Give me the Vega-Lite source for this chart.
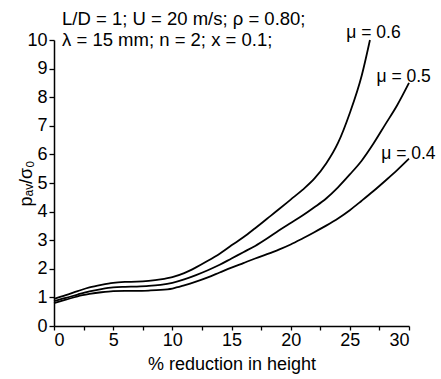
{
  "$schema": "https://vega.github.io/schema/vega-lite/v6.json",
  "width": 355,
  "height": 286,
  "autosize": {"type": "none"},
  "padding": {"left": 54, "top": 40, "right": 32, "bottom": 53},
  "background": "white",
  "config": {
    "view": {"stroke": null},
    "font": "Liberation Sans",
    "axis": {
      "domainColor": "black",
      "domainWidth": 1.5,
      "tickColor": "black",
      "tickWidth": 1.3,
      "labelColor": "black",
      "titleColor": "black",
      "labelFont": "Liberation Sans",
      "titleFont": "Liberation Sans",
      "labelFontSize": 18,
      "titleFontSize": 18,
      "titleFontWeight": "normal",
      "labelOverlap": false,
      "grid": false
    }
  },
  "datasets": {
    "curves": [
      {"mu": "0.6", "x": 0, "y": 0.95}, {"mu": "0.6", "x": 1, "y": 1.08}, {"mu": "0.6", "x": 2, "y": 1.22},
      {"mu": "0.6", "x": 3, "y": 1.35}, {"mu": "0.6", "x": 4, "y": 1.44}, {"mu": "0.6", "x": 5, "y": 1.51},
      {"mu": "0.6", "x": 6, "y": 1.54}, {"mu": "0.6", "x": 7, "y": 1.55}, {"mu": "0.6", "x": 8, "y": 1.58},
      {"mu": "0.6", "x": 9, "y": 1.63}, {"mu": "0.6", "x": 10, "y": 1.71}, {"mu": "0.6", "x": 11, "y": 1.85},
      {"mu": "0.6", "x": 12, "y": 2.05}, {"mu": "0.6", "x": 13, "y": 2.28}, {"mu": "0.6", "x": 14, "y": 2.53},
      {"mu": "0.6", "x": 15, "y": 2.82}, {"mu": "0.6", "x": 16, "y": 3.1}, {"mu": "0.6", "x": 17, "y": 3.42},
      {"mu": "0.6", "x": 18, "y": 3.75}, {"mu": "0.6", "x": 19, "y": 4.08}, {"mu": "0.6", "x": 20, "y": 4.42},
      {"mu": "0.6", "x": 21, "y": 4.76}, {"mu": "0.6", "x": 22, "y": 5.15}, {"mu": "0.6", "x": 23, "y": 5.68},
      {"mu": "0.6", "x": 24, "y": 6.4}, {"mu": "0.6", "x": 25, "y": 7.45}, {"mu": "0.6", "x": 26, "y": 8.75},
      {"mu": "0.6", "x": 26.7, "y": 10.0},
      {"mu": "0.5", "x": 0, "y": 0.87}, {"mu": "0.5", "x": 1, "y": 0.98}, {"mu": "0.5", "x": 2, "y": 1.1},
      {"mu": "0.5", "x": 3, "y": 1.21}, {"mu": "0.5", "x": 4, "y": 1.29}, {"mu": "0.5", "x": 5, "y": 1.35},
      {"mu": "0.5", "x": 6, "y": 1.37}, {"mu": "0.5", "x": 7, "y": 1.38}, {"mu": "0.5", "x": 8, "y": 1.4},
      {"mu": "0.5", "x": 9, "y": 1.44}, {"mu": "0.5", "x": 10, "y": 1.51}, {"mu": "0.5", "x": 11, "y": 1.63},
      {"mu": "0.5", "x": 12, "y": 1.78}, {"mu": "0.5", "x": 13, "y": 1.95}, {"mu": "0.5", "x": 14, "y": 2.14},
      {"mu": "0.5", "x": 15, "y": 2.36}, {"mu": "0.5", "x": 16, "y": 2.58}, {"mu": "0.5", "x": 17, "y": 2.8},
      {"mu": "0.5", "x": 18, "y": 3.06}, {"mu": "0.5", "x": 19, "y": 3.34}, {"mu": "0.5", "x": 20, "y": 3.6},
      {"mu": "0.5", "x": 21, "y": 3.86}, {"mu": "0.5", "x": 22, "y": 4.15}, {"mu": "0.5", "x": 23, "y": 4.46},
      {"mu": "0.5", "x": 24, "y": 4.85}, {"mu": "0.5", "x": 25, "y": 5.3}, {"mu": "0.5", "x": 26, "y": 5.78},
      {"mu": "0.5", "x": 27, "y": 6.38}, {"mu": "0.5", "x": 28, "y": 7.05}, {"mu": "0.5", "x": 29, "y": 7.72},
      {"mu": "0.5", "x": 30, "y": 8.5},
      {"mu": "0.4", "x": 0, "y": 0.8}, {"mu": "0.4", "x": 1, "y": 0.92}, {"mu": "0.4", "x": 2, "y": 1.04},
      {"mu": "0.4", "x": 3, "y": 1.12}, {"mu": "0.4", "x": 4, "y": 1.18}, {"mu": "0.4", "x": 5, "y": 1.22},
      {"mu": "0.4", "x": 6, "y": 1.23}, {"mu": "0.4", "x": 7, "y": 1.23}, {"mu": "0.4", "x": 8, "y": 1.24},
      {"mu": "0.4", "x": 9, "y": 1.26}, {"mu": "0.4", "x": 10, "y": 1.31}, {"mu": "0.4", "x": 11, "y": 1.42},
      {"mu": "0.4", "x": 12, "y": 1.55}, {"mu": "0.4", "x": 13, "y": 1.7}, {"mu": "0.4", "x": 14, "y": 1.87},
      {"mu": "0.4", "x": 15, "y": 2.04}, {"mu": "0.4", "x": 16, "y": 2.2}, {"mu": "0.4", "x": 17, "y": 2.36},
      {"mu": "0.4", "x": 18, "y": 2.51}, {"mu": "0.4", "x": 19, "y": 2.67}, {"mu": "0.4", "x": 20, "y": 2.85},
      {"mu": "0.4", "x": 21, "y": 3.06}, {"mu": "0.4", "x": 22, "y": 3.28}, {"mu": "0.4", "x": 23, "y": 3.51},
      {"mu": "0.4", "x": 24, "y": 3.76}, {"mu": "0.4", "x": 25, "y": 4.05}, {"mu": "0.4", "x": 26, "y": 4.38},
      {"mu": "0.4", "x": 27, "y": 4.72}, {"mu": "0.4", "x": 28, "y": 5.08}, {"mu": "0.4", "x": 29, "y": 5.45},
      {"mu": "0.4", "x": 30, "y": 5.85}
    ],
    "labels": [
      {"text": "μ = 0.6", "x": 24.7, "y": 10.07},
      {"text": "μ = 0.5", "x": 27.25, "y": 8.53},
      {"text": "μ = 0.4", "x": 27.65, "y": 5.84}
    ],
    "notes": [
      {"text": "L/D = 1; U = 20 m/s; ρ = 0.80;", "x": 0.68, "y": 10.52},
      {"text": "λ = 15 mm; n = 2; x = 0.1;", "x": 0.68, "y": 9.79}
    ]
  },
  "layer": [
    {
      "data": {"name": "curves"},
      "mark": {"type": "line", "color": "black", "strokeWidth": 1.8, "clip": false, "interpolate": "monotone"},
      "encoding": {
        "x": {
          "field": "x", "type": "quantitative",
          "scale": {"domain": [0, 30], "nice": false, "zero": false},
          "axis": {
            "title": "% reduction in height",
            "values": [0, 2.5, 5, 7.5, 10, 12.5, 15, 17.5, 20, 22.5, 25, 27.5, 30],
            "tickCount": 100,
            "format": "d",
            "labelExpr": "datum.value % 5 === 0 ? datum.label : ''",
            "labelOverlap": false,
            "tickSize": 4,
            "labelPadding": 1,
            "titlePadding": 6
          }
        },
        "y": {
          "field": "y", "type": "quantitative",
          "scale": {"domain": [0, 10], "nice": false, "zero": false},
          "axis": {
            "title": "pₐᵥ/σ₀",
            "values": [0, 0.5, 1, 1.5, 2, 2.5, 3, 3.5, 4, 4.5, 5, 5.5, 6, 6.5, 7, 7.5, 8, 8.5, 9, 9.5, 10],
            "tickCount": 100,
            "format": "d",
            "labelExpr": "datum.value % 1 === 0 ? datum.label : ''",
            "labelOverlap": false,
            "tickSize": 5,
            "labelPadding": 2,
            "titlePadding": -9
          }
        },
        "detail": {"field": "mu", "type": "nominal"}
      }
    },
    {
      "data": {"name": "labels"},
      "mark": {"type": "text", "align": "left", "baseline": "alphabetic", "fontSize": 17.5, "color": "black", "font": "Liberation Sans"},
      "encoding": {
        "x": {"field": "x", "type": "quantitative"},
        "y": {"field": "y", "type": "quantitative"},
        "text": {"field": "text"}
      }
    },
    {
      "data": {"name": "notes"},
      "mark": {"type": "text", "align": "left", "baseline": "alphabetic", "fontSize": 18.5, "color": "black", "font": "Liberation Sans"},
      "encoding": {
        "x": {"field": "x", "type": "quantitative"},
        "y": {"field": "y", "type": "quantitative"},
        "text": {"field": "text"}
      }
    }
  ]
}
